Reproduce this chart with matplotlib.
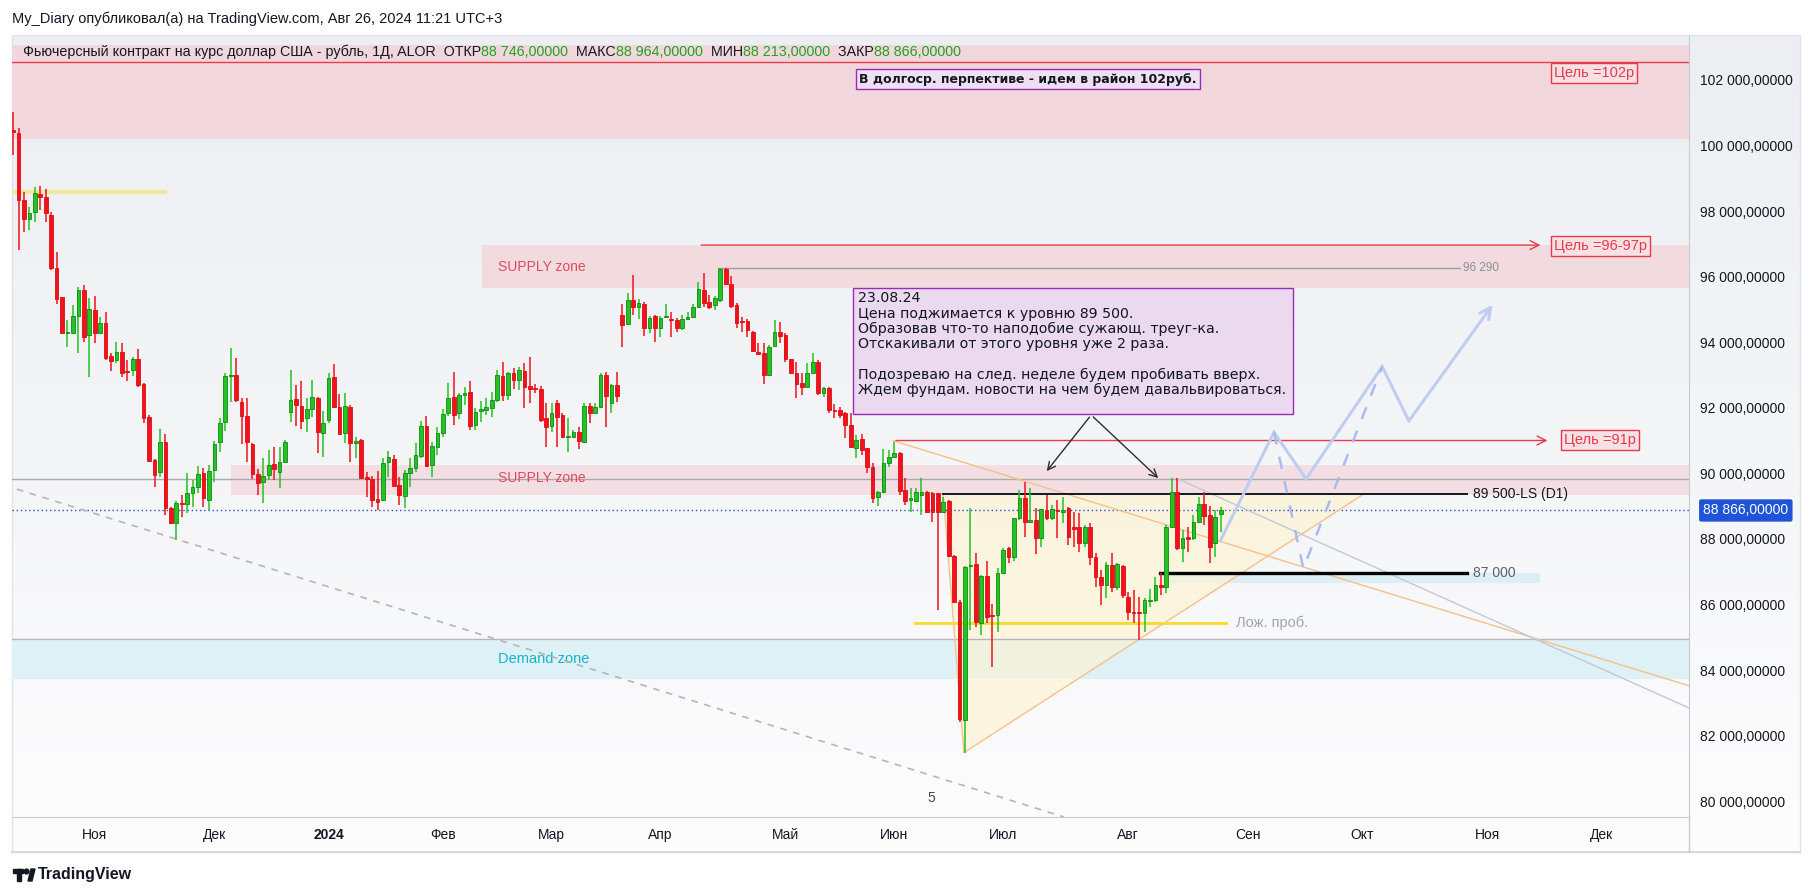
import matplotlib
matplotlib.use('Agg')
import matplotlib.pyplot as plt
import numpy as np
from matplotlib.patches import Rectangle, Polygon, Circle
from matplotlib.colors import LinearSegmentedColormap
from matplotlib.transforms import blended_transform_factory

plt.rcParams['font.family'] = ['Liberation Sans', 'DejaVu Sans']

# ---------------- data ----------------
open_ = [100470, 100369, 98335, 97745, 97979, 98508, 98437, 97877, 96250, 95365,
         94287, 94287, 94796, 95589, 94216, 94979, 94287, 94592, 93576, 93454,
         93688, 93128, 93149, 93474, 92721, 91725, 90402, 90047, 90962, 88928,
         88471, 89101, 89060, 89386, 89569, 89996, 89182, 90098, 90962, 91572,
         92965, 92996, 92182, 91745, 90891, 89976, 89742, 89945, 90270, 90047,
         90352, 91877, 92253, 92052, 91676, 91961, 92307, 91239, 91625, 92927,
         92012, 91239, 92032, 90934, 91015, 89896, 89815, 89205, 89184, 90334,
         90435, 89642, 89317, 90018, 90151, 90537, 91442, 90252, 90812, 91218,
         91829, 92316, 91828, 92387, 92468, 91472, 91909, 91929, 91980, 92234,
         92977, 92387, 93068, 92845, 93130, 92662, 92590, 92560, 91675, 91441,
         92133, 91777, 91096, 91116, 91269, 90963, 92051, 91848, 92031, 92997,
         92133, 92692, 94828, 94543, 95285, 95082, 95163, 94421, 94797, 94421,
         94757, 94696, 94675, 94421, 94696, 94777, 95082, 95591, 95235, 95133,
         95285, 96221, 95763, 95133, 94655, 94655, 94319, 93709, 93679, 92997,
         93882, 94299, 94218, 93475, 93068, 92743, 92641, 93068, 93404, 92458,
         92590, 91930, 91930, 91829, 91473, 90761, 91036, 90761, 90202, 89287,
         89440, 90304, 90507, 90609, 89490, 89185, 89165, 89338, 89440, 89389,
         89389, 88829, 89165, 87477, 86083, 82473, 87172, 87233, 85423, 86867,
         85677, 85677, 86948, 87711, 87436, 88626, 89236, 88524, 88575, 88016,
         88880, 88626, 88880, 88829, 88931, 88351, 88351, 87863, 88351, 87436,
         86847, 86592, 87202, 86541, 87172, 86236, 85778, 85778, 85728, 86114,
         86134, 86592, 86541, 88372, 89440, 87711, 88067, 88016, 88524, 89063,
         88728, 87883, 88746]
high = [101030, 100521, 98590, 98132, 98721, 98762, 98660, 97979, 96759, 95385,
        94674, 95131, 95691, 95742, 95335, 95406, 94776, 94928, 93657, 94013,
        93962, 93454, 93555, 93779, 92742, 91776, 90423, 91338, 91196, 88979,
        89150, 89335, 90016, 89793, 90220, 90149, 90250, 90982, 91674, 93067,
        93810, 93505, 92284, 92284, 90920, 90118, 90454, 90708, 90789, 90810,
        91013, 93149, 92691, 92815, 92286, 92846, 92337, 91900, 93069, 93334,
        92418, 92459, 92083, 91097, 91036, 90049, 89917, 90080, 90456, 90690,
        90557, 89896, 90100, 90456, 90913, 91605, 91747, 90964, 91422, 91951,
        92764, 93099, 92458, 92641, 92814, 91980, 92214, 92285, 92489, 93150,
        93384, 93099, 93201, 93252, 93353, 93557, 92723, 92662, 92133, 92133,
        92235, 91828, 91675, 91319, 91421, 92133, 92133, 92133, 93050, 93078,
        92720, 93099, 95163, 95509, 96048, 95306, 95235, 94797, 94828, 94797,
        95163, 94930, 94726, 94828, 94930, 95163, 95845, 96119, 95438, 95407,
        96252, 96252, 96018, 95184, 94777, 94696, 94340, 93963, 93963, 93912,
        94675, 94624, 94269, 93500, 93404, 93048, 93374, 93658, 93455, 92641,
        92641, 92112, 92031, 91880, 91829, 91168, 91198, 90780, 90304, 89460,
        90731, 90711, 90965, 90660, 89846, 89541, 89541, 89846, 89460, 89440,
        89410, 89287, 89185, 87507, 86134, 87160, 88931, 87578, 86897, 87334,
        86012, 87101, 87711, 87741, 88650, 89490, 89745, 89541, 88931, 88920,
        89338, 89033, 89185, 89287, 88982, 88829, 88778, 88422, 88473, 87578,
        87050, 87304, 87558, 87253, 87202, 86388, 86439, 86236, 86185, 86460,
        86846, 86948, 88422, 89846, 89846, 88270, 88372, 88728, 89287, 89440,
        89002, 88880, 88964]
low = [99700, 96810, 97369, 97420, 97674, 98030, 97674, 96200, 95162, 94267,
       93860, 94250, 93657, 94013, 92945, 93982, 94267, 93454, 93128, 93352,
       92925, 92823, 92965, 92640, 91522, 90330, 89589, 89894, 88725, 88450,
       87962, 88674, 88776, 88959, 89386, 88979, 88877, 89742, 90657, 91298,
       92182, 92182, 90881, 90352, 89813, 89335, 89081, 89793, 89793, 89559,
       90321, 91572, 91440, 91351, 91269, 91727, 90608, 90486, 91544, 91981,
       91168, 90913, 90334, 90476, 89845, 89286, 88981, 88879, 89164, 89896,
       89591, 89032, 88951, 89571, 90049, 90456, 90201, 89876, 90557, 91097,
       91747, 91472, 91645, 92082, 91319, 91319, 91574, 91777, 91726, 92183,
       92214, 92234, 92560, 92540, 91980, 92133, 92458, 91574, 90814, 91269,
       90814, 91065, 90658, 91065, 90729, 90914, 91523, 91828, 91990, 91421,
       91848, 92163, 93862, 94523, 94828, 94696, 94187, 94269, 94014, 94167,
       94726, 94147, 94319, 94370, 94675, 94726, 95031, 95082, 95001, 94980,
       95235, 95743, 95031, 94421, 94319, 94167, 93709, 93607, 92723, 92967,
       93862, 93963, 93404, 93048, 92285, 92387, 92621, 93048, 92387, 92336,
       91848, 91675, 91675, 91066, 90761, 90456, 90558, 89998, 89084, 89002,
       89389, 90202, 90457, 89338, 89033, 88829, 89134, 88728, 88778, 88524,
       85829, 88800, 87456, 86033, 82422, 81476, 85219, 85321, 85067, 85423,
       84100, 85168, 86928, 87273, 87334, 88575, 88067, 88473, 87538, 87761,
       88575, 88575, 88016, 88473, 87812, 87761, 87609, 87761, 87202, 86541,
       85982, 86185, 86388, 86439, 86185, 85524, 85443, 84914, 85168, 85931,
       86083, 86287, 86338, 88321, 87660, 87304, 87609, 87965, 88494, 88423,
       87253, 87436, 88213]
close = [100420, 98335, 97745, 97928, 98538, 98437, 97928, 96250, 95304, 94287,
         94307, 94796, 95589, 94165, 95000, 94287, 94572, 93525, 93433, 93708,
         93047, 93098, 93474, 92691, 91674, 90372, 89945, 90942, 88928, 88491,
         89101, 89060, 89386, 89569, 89976, 89233, 90067, 90891, 91542, 92965,
         92986, 92233, 91745, 90962, 89976, 89691, 89915, 90250, 90118, 90352,
         90962, 92233, 92081, 91605, 91961, 92317, 91269, 91544, 92896, 92012,
         91198, 92052, 90934, 90995, 89866, 89815, 89184, 89134, 90303, 90486,
         89622, 89337, 90018, 90171, 90557, 91452, 90232, 90832, 91239, 91798,
         92286, 91777, 92387, 92438, 91452, 91878, 91950, 92011, 92234, 93003,
         92387, 93048, 92845, 93150, 92641, 92560, 92560, 91625, 91421, 91828,
         91726, 91096, 91116, 91269, 90994, 92051, 91848, 92031, 92997, 92366,
         92692, 92366, 94523, 95285, 95082, 95183, 94421, 94726, 94421, 94726,
         94767, 94675, 94441, 94696, 94757, 95062, 95611, 95204, 95062, 95336,
         96221, 95763, 95102, 94594, 94624, 94370, 93740, 93638, 92997, 93862,
         94299, 94187, 93475, 93068, 92723, 92641, 93068, 93404, 92438, 92590,
         91930, 91909, 91777, 91473, 90792, 91015, 90710, 90182, 89236, 89440,
         90304, 90507, 90609, 89470, 89165, 89236, 89440, 89440, 88829, 88829,
         88829, 89134, 87477, 86083, 82493, 87131, 87202, 85473, 86867, 85626,
         85646, 86968, 87660, 87436, 88626, 89236, 88524, 88575, 88016, 88900,
         88626, 88900, 88860, 88880, 88067, 88290, 87863, 88351, 87436, 86847,
         86592, 87202, 86541, 87222, 86287, 85778, 85748, 85748, 86134, 86134,
         86592, 86541, 88372, 89440, 87711, 88016, 87985, 88524, 89063, 88697,
         87761, 88656, 88866]

month_labels = ['Ноя', 'Дек', '2024', 'Фев', 'Мар', 'Апр', 'Май', 'Июн',
                'Июл', 'Авг', 'Сен', 'Окт', 'Ноя', 'Дек']
month_bar = [15, 37, 58, 79, 99, 119, 142, 162, 182, 205, 227, 248, 271, 292]

price_ticks = list(range(80000, 104000, 2000))
last_price = close[-1]

# ---------------- figure ----------------
W, H = 1814, 896
fig = plt.figure(figsize=(W / 100, H / 100), dpi=100)
fig.patch.set_facecolor('white')

base = fig.add_axes([0, 0, 1, 1], zorder=0)
base.set_xlim(0, W)
base.set_ylim(H, 0)
base.axis('off')

grad = LinearSegmentedColormap.from_list('g', ['#eceef2', '#f4f5f7', '#fdfdfe'])
base.imshow(np.linspace(0, 1, 256).reshape(-1, 1), extent=(12, 1800, 852, 35),
            aspect='auto', cmap=grad, zorder=0)
base.add_patch(Rectangle((12, 35), 1788, 817, fill=False, ec='#e0e3eb', lw=1, zorder=1))
base.plot([12, 1800], [852, 852], color='#d6d9df', lw=1.5, zorder=1)
base.plot([1689, 1689], [817, 852], color='#c8cbd2', lw=1, zorder=1)

base.text(12, 19, 'My_Diary опубликовал(а) на TradingView.com, Авг 26, 2024 11:21 UTC+3',
          fontsize=10.5, color='#131722', va='center', ha='left')

# TradingView logo
base.add_patch(Rectangle((13, 869), 10, 4, color='#131722', zorder=2))
base.add_patch(Rectangle((17, 869), 4, 12, color='#131722', zorder=2))
base.add_patch(Circle((26.5, 871.5), 2.4, color='#131722', zorder=2))
base.add_patch(Polygon([(28, 881), (31, 869), (35, 869), (32, 881)], closed=True,
                       color='#131722', zorder=2))
base.text(38, 875, 'TradingView', fontsize=11.5, color='#131722', va='center',
          ha='left', fontweight='bold')

# main chart axes
ax = fig.add_axes([12 / W, (H - 817) / H, 1677 / W, (817 - 35) / H], zorder=2)
ax.set_facecolor('none')
x0, x1 = -0.2, 308.1
y0, y1 = 79517, 103368
ax.set_xlim(x0, x1)
ax.set_ylim(y0, y1)

for s in ['top', 'left']:
    ax.spines[s].set_visible(False)
ax.spines['right'].set_color('#c8cbd2')
ax.spines['bottom'].set_color('#c8cbd2')

ax.yaxis.tick_right()
ax.set_yticks(price_ticks)
ax.set_yticklabels([f"{v:,}".replace(',', ' ') + ',00000' for v in price_ticks])
ax.set_xticks(month_bar)
ax.set_xticklabels(month_labels)
ax.tick_params(axis='y', length=0, pad=8, labelsize=10, labelcolor='#131722')
ax.tick_params(axis='x', length=0, pad=8, labelsize=10, labelcolor='#131722')
for t in ax.get_xticklabels():
    if t.get_text() == '2024':
        t.set_fontweight('bold')

RED = '#e8394d'
PINK = '#f3d4d9'

# zones
ax.axhspan(100190, 103070, color=PINK, alpha=0.85, lw=0, zorder=1)
ax.add_patch(Rectangle((86.2, 95640), x1 - 86.2, 96960 - 95640, color=PINK, alpha=0.75, lw=0, zorder=1))
ax.add_patch(Rectangle((40.1, 89340), x1 - 40.1, 90250 - 89340, color=PINK, alpha=0.65, lw=0, zorder=1))
ax.axhspan(83730, 84950, color='#dcf1f6', alpha=0.95, lw=0, zorder=1)
ax.add_patch(Rectangle((212.2, 86660), 280.7 - 212.2, 86970 - 86660, color='#d9eff5', alpha=0.9, lw=0, zorder=1.2))

ax.axhline(102550, color=RED, lw=1, zorder=2)
ax.axhline(89820, color='#a9a9ae', lw=1, zorder=2)
ax.axhline(84960, color='#b3b5ba', lw=1, zorder=2)
ax.axhline(last_price, color='#2b4fc4', lw=1, ls=(0, (1, 2)), zorder=2)

ax.text(89.2, 96280, 'SUPPLY zone', color='#e04a5e', fontsize=10, va='center', ha='left', zorder=2)
ax.text(89.2, 89850, 'SUPPLY zone', color='#e04a5e', fontsize=10, va='center', ha='left', zorder=2)
ax.text(97.6, 84330, 'Demand zone', color='#14b4cf', fontsize=10.5, va='center', ha='center', zorder=2)

# triangle
tri = Polygon([(171.0, 89370), (174.8, 81480), (248.5, 89390)], closed=True,
              fc='#fff3cf', ec='none', alpha=0.6, zorder=1.5)
ax.add_patch(tri)
ax.plot([171.0, 174.8, 248.5], [89370, 81480, 89390], color='#f6c08a', lw=1, zorder=2)

# trend lines
ax.plot([0.7, 193.2], [89515, 79517], color='#b5b5b8', lw=1.2, ls=(0, (4, 4)), zorder=2)
ax.plot([161.8, x1], [90994, 83520], color='#f6c08a', lw=1, zorder=2)
ax.plot([213.9, x1], [89847, 82842], color='#c3c8d4', lw=1, zorder=2)

ax.plot([0, 28.0], [98590, 98590], color='#f6e7a0', lw=3, zorder=2)
ax.plot([165.8, 222.9], [85445, 85445], color='#f7dc2a', lw=2, zorder=2)
ax.text(224.8, 85445, 'Лож. проб.', color='#a1a4ad', fontsize=10.5, va='center', ha='left', zorder=2)

ax.plot([129.6, 266.0], [96260, 96260], color='#9b9ea6', lw=1, zorder=2)
ax.text(266.6, 96260, '96 290', color='#8a8e99', fontsize=8.5, va='center', ha='left', zorder=2)

ax.plot([171.0, 267.3], [89370, 89370], color='#131722', lw=1.4, zorder=2.5)
ax.text(268.4, 89370, '89 500-LS (D1)', color='#131722', fontsize=10, va='center', ha='left', zorder=2)
ax.plot([210.9, 267.3], [86970, 86970], color='#000000', lw=2.4, zorder=2.5)
ax.text(268.4, 86970, '87 000', color='#5d606b', fontsize=10, va='center', ha='left', zorder=2)

ax.text(168.8, 80110, '5', color='#434651', fontsize=10, va='center', ha='center', zorder=2)

# target lines
ax.annotate('', xy=(281.3, 96960), xytext=(126.0, 96960),
            arrowprops=dict(arrowstyle='->', color=RED, lw=1, mutation_scale=16), zorder=2)
ax.annotate('', xy=(282.6, 91000), xytext=(161.8, 91000),
            arrowprops=dict(arrowstyle='->', color=RED, lw=1, mutation_scale=16), zorder=2)
tbox = dict(boxstyle='square,pad=0.2', fc='#f7e1e4', ec=RED, lw=1)
ax.text(291.8, 96930, 'Цель =96-97р', color=RED, fontsize=10.5, va='center', ha='center', bbox=tbox, zorder=5)
ax.text(291.8, 91010, 'Цель =91р', color=RED, fontsize=10.5, va='center', ha='center', bbox=tbox, zorder=5)
ax.text(290.6, 102215, 'Цель =102р', color=RED, fontsize=10.5, va='center', ha='center', bbox=tbox, zorder=5)

# projected blue paths
path_x = [222, 231.8, 237.7, 251.7, 256.6, 272.3]
path_y = [87960, 91254, 89826, 93257, 91595, 95209]
ax.plot(path_x[:-1], path_y[:-1], color='#bfcdf3', lw=2.2, zorder=2.6, solid_joinstyle='miter')
ax.annotate('', xy=(path_x[-1], path_y[-1]), xytext=(path_x[-2], path_y[-2]),
            arrowprops=dict(arrowstyle='->', color='#bfcdf3', lw=2.2, mutation_scale=20), zorder=2.6)
ax.plot([231.8, 237.2, 251.7], [91254, 87096, 93257], color='#a9bbef', lw=1.8,
        ls=(0, (5, 5)), zorder=2.6)

# candles
o = np.array(open_, float); hh = np.array(high, float)
ll = np.array(low, float); c = np.array(close, float)
xi = np.arange(len(o))
up = c >= o
body_col = np.where(up, '#22c322', '#f2121c')
edge_col = np.where(up, '#0e8a12', '#dc0d16')
ax.vlines(xi, ll, hh, colors=body_col, lw=1.1, zorder=3)
bottom = np.minimum(o, c)
height = np.maximum(np.abs(c - o), 35)
ax.bar(xi, height, bottom=bottom, width=0.68, color=body_col, edgecolor=edge_col,
       linewidth=0.6, zorder=4)

# annotation box
ax.add_patch(Rectangle((154.4, 91809), 235.3 - 154.4, 95652 - 91809, fc='#ead9ef',
                       ec='#9c2bb5', lw=1, zorder=5))
note_lines = ['23.08.24',
              'Цена поджимается к уровню 89 500.',
              'Образовав что-то наподобие сужающ. треуг-ка.',
              'Отскакивали от этого уровня уже 2 раза.',
              '',
              'Подозреваю на след. неделе будем пробивать вверх.',
              'Ждем фундам. новости на чем будем давальвироваться.']
yy = 95340
for ln in note_lines:
    ax.text(155.3, yy, ln, fontsize=10.2, family='DejaVu Sans', color='#131722',
            va='center', ha='left', zorder=6)
    yy -= 468

ax.annotate('', xy=(189.7, 90000), xytext=(198.2, 91779),
            arrowprops=dict(arrowstyle='->', color='#2a2e39', lw=1, mutation_scale=14), zorder=5)
ax.annotate('', xy=(210.9, 89796), xytext=(198.2, 91779),
            arrowprops=dict(arrowstyle='->', color='#2a2e39', lw=1, mutation_scale=14), zorder=5)

ax.text(186.6, 102024, 'В долгоср. перпективе - идем в район 102руб.', fontsize=9,
        family='DejaVu Sans', fontweight='bold', color='#131722', va='center', ha='center',
        bbox=dict(boxstyle='square,pad=0.25', fc='#efdff3', ec='#9c2bb5', lw=1), zorder=6)

# current price label on axis
bt = blended_transform_factory(ax.transAxes, ax.transData)
ax.text(1.0085, last_price, f"{int(last_price):,}".replace(',', ' ') + ',00000',
        transform=bt, fontsize=10, color='white', va='center', ha='left', clip_on=False,
        bbox=dict(boxstyle='round,pad=0.3,rounding_size=0.15', fc='#1f54d6', ec='none'), zorder=7)

# legend header (overlay on top of the chart)
top = fig.add_axes([0, 0, 1, 1], zorder=10)
top.set_xlim(0, W)
top.set_ylim(H, 0)
top.axis('off')
top.patch.set_alpha(0)
rend = fig.canvas.get_renderer()
segs = [('Фьючерсный контракт на курс доллар США - рубль, 1Д, ALOR  ОТКР', '#131722'),
        ('88 746,00000', '#1fa31f'), ('  МАКС', '#131722'), ('88 964,00000', '#1fa31f'),
        ('  МИН', '#131722'), ('88 213,00000', '#1fa31f'), ('  ЗАКР', '#131722'),
        ('88 866,00000', '#1fa31f')]
xp = 23
for s, col in segs:
    t = top.text(xp, 52, s, fontsize=10.3, color=col, va='center', ha='left')
    xp += t.get_window_extent(renderer=rend).width

fig.savefig('out.png', dpi=100)
